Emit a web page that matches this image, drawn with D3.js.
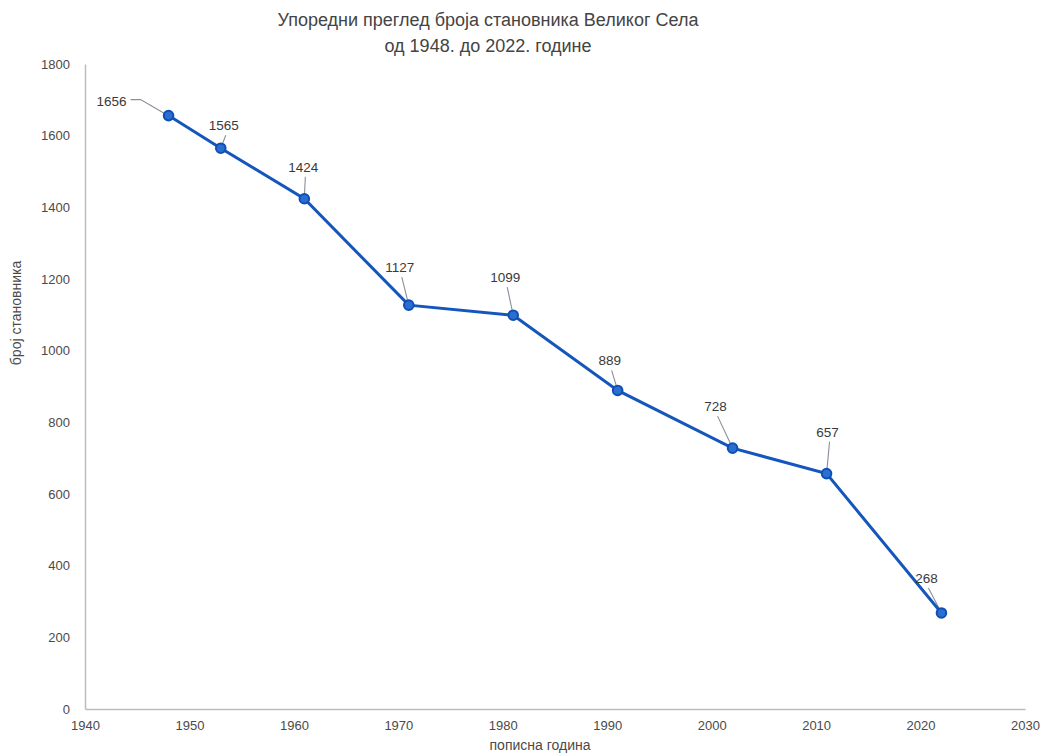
<!DOCTYPE html>
<html><head><meta charset="utf-8">
<script src="https://cdn.jsdelivr.net/npm/d3@7"></script>
<style>
body{margin:0;background:#fff;}
text{font-family:"Liberation Sans",Arial,sans-serif;}
</style></head><body>
<svg id="c" width="1043" height="753"></svg>
<script>
const years = [1948, 1953, 1961, 1971, 1981, 1991, 2002, 2011, 2022];
const population = [1656, 1565, 1424, 1127, 1099, 889, 728, 657, 268];
const xTicks = [1940, 1950, 1960, 1970, 1980, 1990, 2000, 2010, 2020, 2030];
const yTicks = [0, 200, 400, 600, 800, 1000, 1200, 1400, 1600, 1800];
const titleLines = ["Упоредни преглед броја становника Великог Села", "од 1948. до 2022. године"];
const yTitle = "број становника";
const xTitle = "пописна година";
// label offsets (layout only), pixels relative to point
const labelOffsets = [[-57,-15],[3,-23],[-1,-32],[-9,-38],[-8,-38],[-8,-30],[-17,-42],[1,-42],[-15,-35]];

const svg = d3.select("#c");
const x = d3.scaleLinear().domain([1940, 2030]).range([85, 1025]);
const y = d3.scaleLinear().domain([0, 1800]).range([709, 64]);
const axisColor = "#b8bcc4", textColor = "#4a4a4a";

const xa = svg.append("g").attr("transform","translate(0,709)")
  .call(d3.axisBottom(x).tickValues(xTicks).tickFormat(d3.format("d")).tickSize(0).tickPadding(12));
const ya = svg.append("g").attr("transform","translate(85,0)")
  .call(d3.axisLeft(y).tickValues(yTicks).tickFormat(d3.format("d")).tickSize(0).tickPadding(15));
[xa, ya].forEach(g => {
  g.select(".domain").attr("stroke", axisColor).attr("stroke-width", 1.5);
  g.selectAll("text").attr("fill", textColor).style("font-size","13px")
   .style("font-family",'"Liberation Sans",sans-serif');
});

svg.selectAll(".title").data(titleLines).join("text")
  .attr("x", 488).attr("y",(d,i)=>26+i*26)
  .attr("text-anchor","middle").attr("fill","#444").style("font-size","18px").text(d=>d);
svg.append("text").attr("transform","translate(21,313) rotate(-90)")
  .attr("text-anchor","middle").attr("fill",textColor).style("font-size","14px").text(yTitle);
svg.append("text").attr("x",540).attr("y",750)
  .attr("text-anchor","middle").attr("fill",textColor).style("font-size","14px").text(xTitle);

const data = years.map((yr,i)=>({yr, v: population[i], off: labelOffsets[i]}));

data.forEach(d => {
  const px = x(d.yr), py = y(d.v);
  const lx = px + d.off[0], ly = py + d.off[1];
  let pts;
  if (d.off[0] < -40) {
    pts = [[lx+19, ly-1],[lx+29, ly-1],[px-4, py-2]];
  } else {
    const sx = lx + 2, sy = ly + 10;
    const dx = px - sx, dy = py - sy, len = Math.hypot(dx,dy);
    pts = [[sx, sy],[px - dx/len*5, py - dy/len*5]];
  }
  svg.append("path").attr("d", d3.line()(pts)).attr("fill","none")
    .attr("stroke","#8a8f98").attr("stroke-width",1.1);
});

svg.append("path").datum(data)
  .attr("d", d3.line().x(d=>x(d.yr)).y(d=>y(d.v)))
  .attr("fill","none").attr("stroke","#1556bd").attr("stroke-width",3);
svg.selectAll(".pt").data(data).join("circle")
  .attr("cx", d=>x(d.yr)).attr("cy", d=>y(d.v)).attr("r",4.8)
  .attr("fill","#2a6fd0").attr("stroke","#0f4fb5").attr("stroke-width",2);

svg.selectAll(".lbl").data(data).join("text")
  .attr("x", d=>x(d.yr)+d.off[0]).attr("y", d=>y(d.v)+d.off[1]+5)
  .attr("text-anchor","middle").attr("fill","#3a3a3a").style("font-size","13.5px")
  .text(d=>d.v);
</script>
</body></html>
